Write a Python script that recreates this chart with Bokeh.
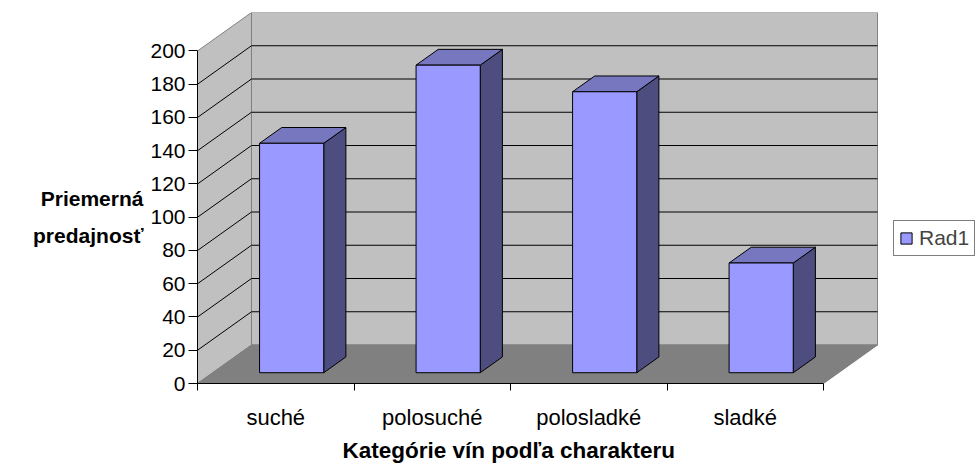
from bokeh.plotting import figure
from bokeh.models import Range1d, FixedTicker, Legend, LegendItem, Title
from bokeh.embed import file_html
from bokeh.resources import INLINE

# ---- data ----
categories = ["suché", "polosuché", "polosladké", "sladké"]
values = [138, 185, 169, 66]
series_name = "Rad1"
y_ticks = [0, 20, 40, 60, 80, 100, 120, 140, 160, 180, 200]
y_title = "\nPriemerná\npredajnosť"
x_title = "Kategórie vín podľa charakteru"

# ---- 3D projection params (data units) ----
YMAX = 200
N = len(categories)
DX = 0.345      # depth shift in category units
DY = 23.15      # depth shift in value units
D1, D2 = 0.28, 0.69   # bar depth start/end (fraction of full depth)
F0, F1 = 0.30, 0.71   # bar x extent within category
X_END = 5.003         # frame extends to the right edge (room for legend)

FONT = "Liberation Sans"

p = figure(width=980, height=465, output_backend="svg", toolbar_location=None,
           x_range=Range1d(0, X_END), y_range=Range1d(0, YMAX + DY),
           min_border_left=197, min_border_right=0, min_border_top=12,
           min_border_bottom=77)
p.outline_line_color = None
p.background_fill_color = "white"
p.border_fill_color = "white"
p.xgrid.visible = False
p.ygrid.visible = False

WALL = "#C0C0C0"
FLOOR = "#808080"
EDGE = "#808080"

# side wall, back wall, floor
p.patch([0, 0, DX, DX], [0, YMAX, YMAX + DY, DY], fill_color=WALL, line_color=EDGE, line_width=1)
p.patch([DX, DX, N + DX, N + DX], [DY, YMAX + DY, YMAX + DY, DY], fill_color=WALL, line_color=EDGE, line_width=1)

# gridlines
gx, gy = [], []
for v in y_ticks[1:-1]:
    gx.append([0, DX, N + DX])
    gy.append([v, v + DY, v + DY])
p.multi_line(gx, gy, line_color="#000000", line_width=1)

p.patch([0, N, N + DX, DX], [0, 0, DY, DY], fill_color=FLOOR, line_color=EDGE, line_width=1)

# bars
dd = D2 - D1
fx, fy, tx, ty, sx, sy = [], [], [], [], [], []
for i, v in enumerate(values):
    x0 = i + F0 + D1 * DX
    x1 = i + F1 + D1 * DX
    yb = D1 * DY
    yt = v + D1 * DY
    fx.append([x0, x1, x1, x0]); fy.append([yb, yb, yt, yt])
    tx.append([x0, x1, x1 + dd * DX, x0 + dd * DX]); ty.append([yt, yt, yt + dd * DY, yt + dd * DY])
    sx.append([x1, x1 + dd * DX, x1 + dd * DX, x1]); sy.append([yb, yb + dd * DY, yt + dd * DY, yt])

p.patches(sx, sy, fill_color="#4D4D80", line_color="black", line_width=1)
p.patches(tx, ty, fill_color="#7777C0", line_color="black", line_width=1)
front = p.patches(fx, fy, fill_color="#9999FF", line_color="black", line_width=1)

# axes
ya = p.yaxis[0]
ya.ticker = FixedTicker(ticks=y_ticks)
ya.bounds = (0, YMAX)
ya.axis_line_color = "black"
ya.major_tick_out = 9
ya.major_tick_in = 0
ya.minor_tick_line_color = None
ya.major_label_standoff = 3
ya.major_label_text_font = FONT
ya.major_label_text_font_size = "21px"
ya.major_label_text_color = "black"
ya.axis_label = y_title
ya.axis_label_orientation = "horizontal"
ya.axis_label_standoff = 4
ya.axis_label_text_font = FONT
ya.axis_label_text_font_size = "21px"
ya.axis_label_text_font_style = "bold"
ya.axis_label_text_color = "black"
ya.axis_label_text_line_height = 1.62
ya.axis_label_text_align = "center"

xa = p.xaxis[0]
xa.ticker = FixedTicker(ticks=[i + 0.5 for i in range(N)], minor_ticks=list(range(N + 1)))
xa.bounds = (0, N)
xa.major_label_overrides = {i + 0.5: c for i, c in enumerate(categories)}
xa.axis_line_color = "black"
xa.major_tick_line_color = None
xa.major_tick_out = 0
xa.major_tick_in = 0
xa.minor_tick_out = 7
xa.minor_tick_in = 0
xa.minor_tick_line_color = "black"
xa.major_label_standoff = 14
xa.major_label_text_font = FONT
xa.major_label_text_font_size = "22px"
xa.major_label_text_color = "black"

# x-axis title: centred under the category axis (frame also holds the legend)
xt = Title(text=x_title, align="left", offset=145, standoff=6,
           text_font=FONT, text_font_size="22.5px", text_font_style="bold",
           text_color="black")
p.add_layout(xt, "below")

legend = Legend(items=[LegendItem(label=series_name, renderers=[front])],
                location=(696, 127), margin=0, padding=5, label_standoff=6,
                glyph_width=14, glyph_height=14,
                label_text_font=FONT, label_text_font_size="21px",
                border_line_color="black", border_line_width=1,
                background_fill_color="white", background_fill_alpha=1)
p.add_layout(legend, "center")

open("out.html", "w").write(file_html(p, INLINE))
